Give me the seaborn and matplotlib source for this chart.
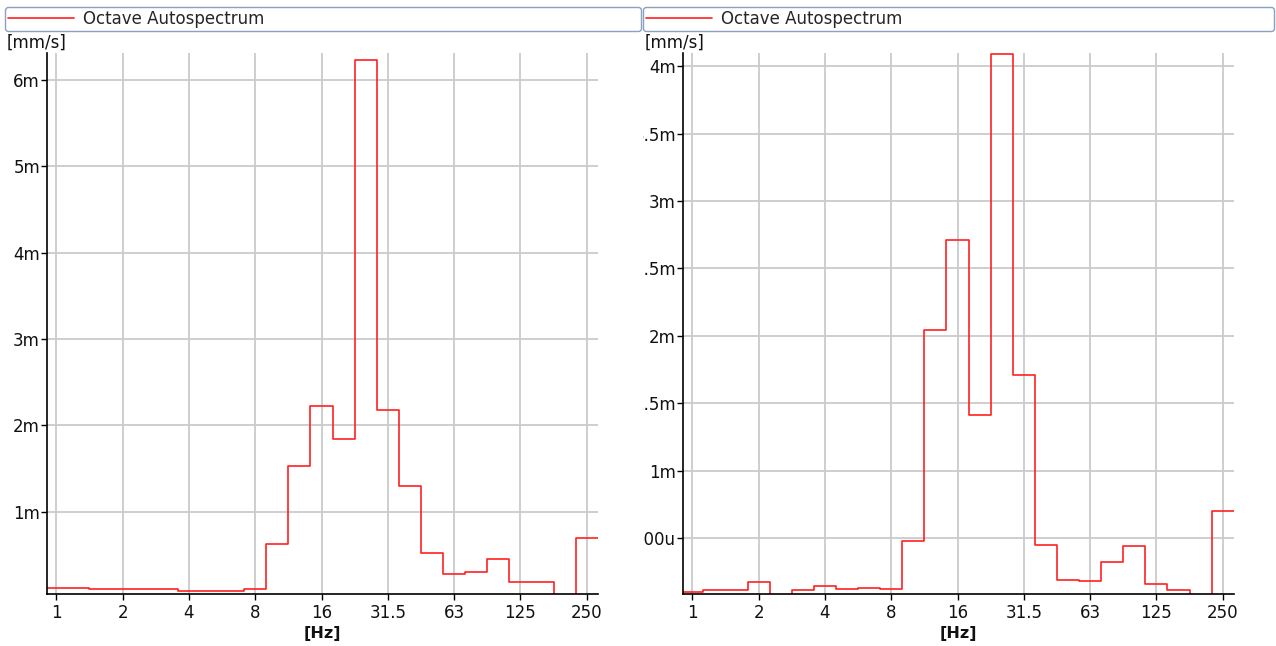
"""
Octave autospectrum, two channels side by side.
1/3-octave bands from 1 Hz to 250 Hz drawn as stairs on a log2 frequency axis.
"""

import numpy as np
import pandas as pd
import matplotlib
matplotlib.use("Agg")
import matplotlib.pyplot as plt
import matplotlib.transforms as mtransforms
import seaborn as sns

sns.set_theme(style="ticks")
plt.rcParams["font.family"] = ["DejaVu Sans"]

# ---------------------------------------------------------
# Data (band levels in milli-[mm/s]; 0 = below the axis floor)
# ---------------------------------------------------------
band_idx = np.arange(25)  # 1, 1.25, 1.6 ... 200, 250 Hz
octave_labels = ["1", "2", "4", "8", "16", "31.5", "63", "125", "250"]

left_vals = [0.12, 0.12, 0.106, 0.106, 0.106, 0.106, 0.09, 0.09, 0.09, 0.106,
             0.63, 1.53, 2.23, 1.84, 6.23, 2.18, 1.30, 0.53, 0.28, 0.30,
             0.46, 0.19, 0.19, 0.0, 0.70]
right_vals = [0.10, 0.11, 0.11, 0.174, 0.0, 0.11, 0.14, 0.12, 0.13, 0.12,
              0.48, 2.04, 2.71, 1.41, 4.09, 1.71, 0.45, 0.19, 0.18, 0.32,
              0.44, 0.16, 0.11, 0.0, 0.70]

left_yticks = [1, 2, 3, 4, 5, 6]
left_ylabels = ["1m", "2m", "3m", "4m", "5m", "6m"]
right_yticks = [0.5, 1, 1.5, 2, 2.5, 3, 3.5, 4]
right_ylabels = ["500u", "1m", "1.5m", "2m", "2.5m", "3m", "3.5m", "4m"]

W, H = 1276, 646
GRID = "#cacaca"
TXT = "#111111"
FS = 12


def stair_frame(vals):
    edges = 2.0 ** ((np.append(band_idx, band_idx[-1] + 1) - 0.5) / 3)
    return pd.DataFrame({"f": edges, "v": list(vals) + [vals[-1]]})


fig = plt.figure(figsize=(W / 100, H / 100), dpi=100)


def panel(x0_px, box, vals, yticks, ylabels, ylim):
    ax = fig.add_axes([x0_px / W, 1 - 594 / H, 551 / W, (594 - 53) / H])
    sns.lineplot(data=stair_frame(vals), x="f", y="v", estimator=None, sort=False,
                 drawstyle="steps-post", color="#ff2020", lw=1.2,
                 label="Octave Autospectrum", ax=ax)
    ax.set_xscale("log", base=2)
    ax.set_xlim(2 ** -0.14, 2 ** 8.17)
    ax.set_ylim(*ylim)
    ax.set_xticks(2.0 ** np.arange(9))
    ax.set_xticklabels(octave_labels)
    ax.minorticks_off()
    ax.set_yticks(yticks)
    ax.set_yticklabels(ylabels)
    ax.set(ylabel="")
    ax.set_xlabel("[Hz]", fontweight="bold", fontsize=11.5, color=TXT, labelpad=3)
    ax.grid(True, color=GRID, lw=1.3)
    ax.set_axisbelow(True)
    sns.despine(ax=ax)
    for s in ("left", "bottom"):
        ax.spines[s].set_color("black")
        ax.spines[s].set_linewidth(1.2)
    ax.tick_params(axis="both", direction="out", length=4, width=1,
                   color="black", labelsize=FS, labelcolor=TXT)
    ax.tick_params(axis="y", pad=1)
    ax.tick_params(axis="x", pad=3)
    bx0, bx1 = box
    ax.legend(loc="lower left", mode="expand", borderaxespad=0,
              bbox_to_anchor=(bx0 / W, 1 - 31 / H, (bx1 - bx0) / W, 23 / H),
              bbox_transform=fig.transFigure, fontsize=FS, frameon=True,
              fancybox=True, edgecolor="#8aa2c0", framealpha=1,
              borderpad=0.18, handlelength=3.95, handletextpad=0.55)
    ax.get_legend().get_frame().set_linewidth(1.0)
    fig.text((bx0 + 2) / W, 1 - 43 / H, "[mm/s]", fontsize=FS,
             color=TXT, va="center", ha="left")
    return ax


ax_l = panel(47, (5, 641), left_vals, left_yticks, left_ylabels, (0.05, 6.31))
ax_r = panel(683, (643, 1274), right_vals, right_yticks, right_ylabels, (0.083, 4.10))

# right panel tick labels are cut at the panel border
clip = mtransforms.TransformedBbox(
    mtransforms.Bbox([[643 / W, 0], [1, 1]]), fig.transFigure)
for lab in ax_r.get_yticklabels():
    lab.set_clip_box(clip)
    lab.set_clip_on(True)

fig.savefig("out.png", dpi=100)
